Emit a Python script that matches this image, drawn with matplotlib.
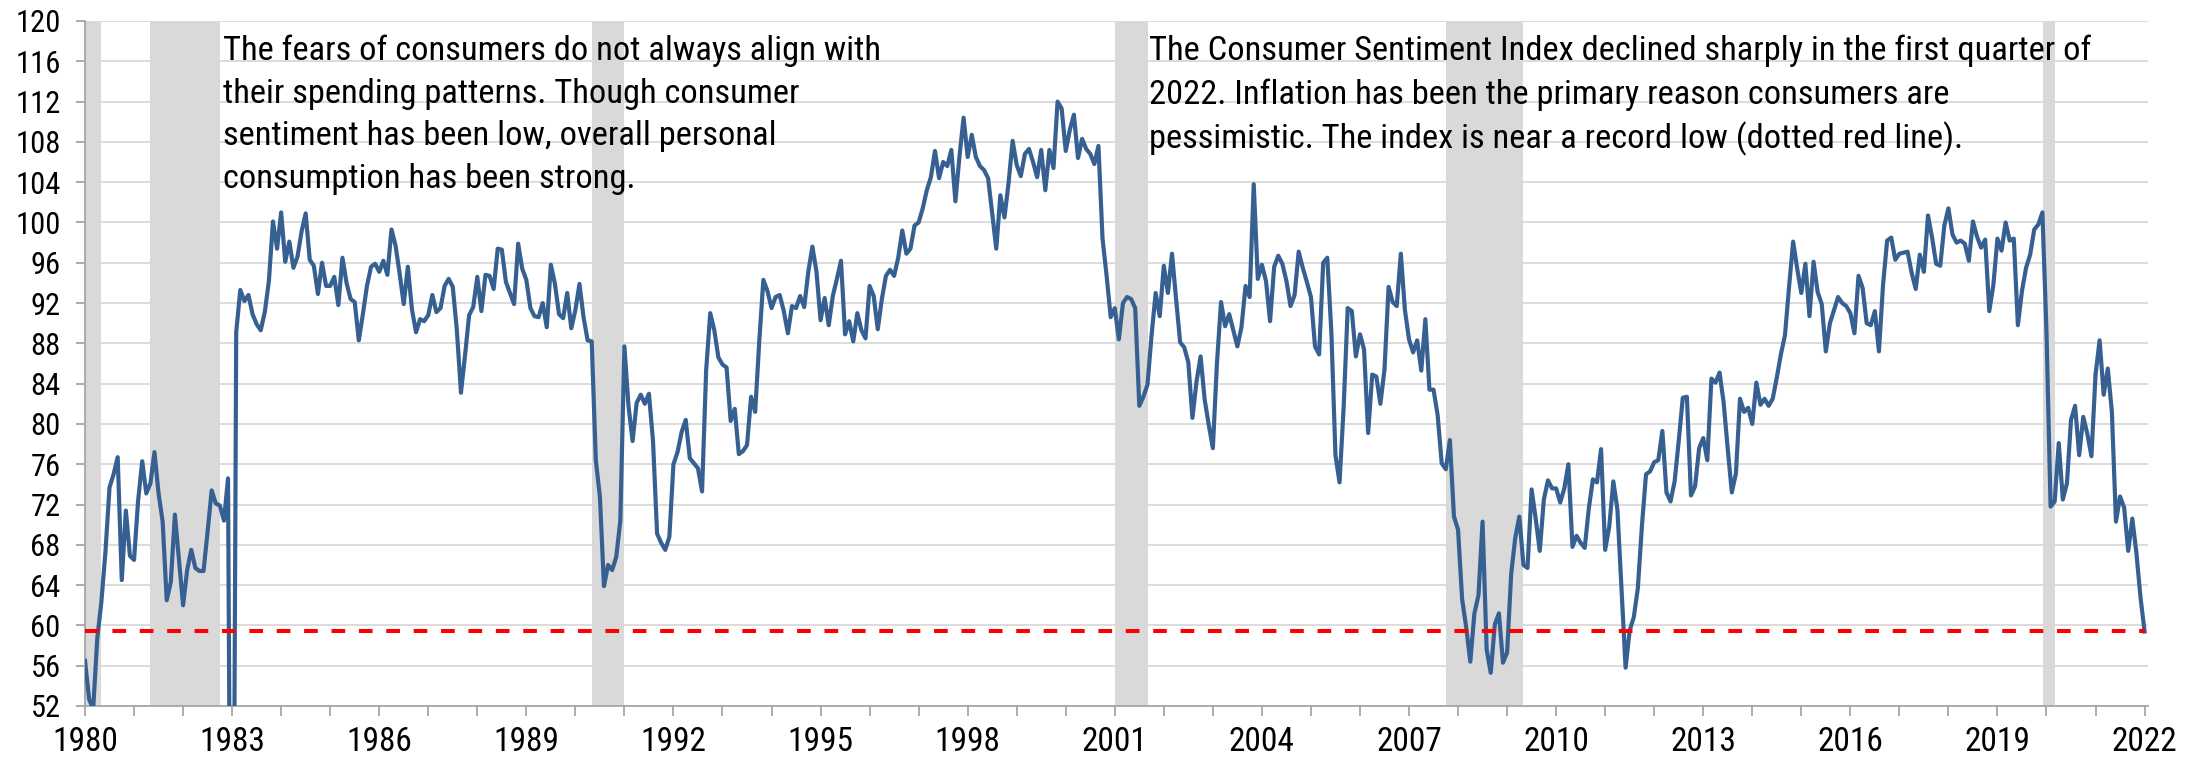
import numpy as np
import matplotlib.pyplot as plt
from matplotlib.ticker import MultipleLocator

plt.rcParams["font.family"] = ["Liberation Sans Narrow", "Roboto Condensed", "Archivo Narrow", "DejaVu Sans"]

# Consumer sentiment index, monthly, as plotted (first point sits on 1980)
# the blank month in 1983 shows as a drop to zero in the source chart
sentiment = [
    56.5, 52.7, 51.7, 58.7, 62.3, 67.3, 73.7, 75.0, 76.7, 64.5,
    71.4, 66.9, 66.5, 72.4, 76.3, 73.1, 74.1, 77.2, 73.1, 70.3, 62.5, 64.3,
    71.0, 66.5, 62.0, 65.5, 67.5, 65.7, 65.4, 65.4, 69.3, 73.4, 72.1, 71.9,
    70.4, 74.6, 0.0, 89.1, 93.3, 92.2, 92.8, 90.9, 89.9, 89.3, 91.1, 94.2,
    100.1, 97.4, 101.0, 96.1, 98.1, 95.5, 96.6, 99.1, 100.9, 96.3, 95.7, 92.9,
    96.0, 93.7, 93.7, 94.6, 91.8, 96.5, 94.0, 92.4, 92.1, 88.3, 90.9, 93.7,
    95.6, 95.9, 95.1, 96.2, 94.8, 99.3, 97.7, 94.9, 91.9, 95.6, 91.4, 89.1,
    90.4, 90.2, 90.8, 92.8, 91.1, 91.5, 93.7, 94.4, 93.6, 89.3, 83.1, 86.8,
    90.8, 91.6, 94.6, 91.2, 94.8, 94.7, 93.4, 97.4, 97.3, 94.1, 93.0, 91.9,
    97.9, 95.4, 94.3, 91.5, 90.7, 90.6, 92.0, 89.6, 95.8, 93.9, 90.9, 90.5,
    93.0, 89.5, 91.3, 93.9, 90.6, 88.3, 88.2, 76.4, 72.8, 63.9, 66.0, 65.5,
    66.8, 70.4, 87.7, 81.8, 78.3, 82.1, 82.9, 82.0, 83.0, 78.3, 69.1, 68.2,
    67.5, 68.8, 76.0, 77.2, 79.2, 80.4, 76.6, 76.1, 75.6, 73.3, 85.3, 91.0,
    89.3, 86.6, 85.9, 85.6, 80.3, 81.5, 77.0, 77.3, 77.9, 82.7, 81.2, 88.2,
    94.3, 93.2, 91.5, 92.6, 92.8, 91.2, 89.0, 91.7, 91.5, 92.7, 91.6, 95.1,
    97.6, 95.1, 90.3, 92.5, 89.8, 92.7, 94.4, 96.2, 88.9, 90.2, 88.2, 91.0,
    89.3, 88.5, 93.7, 92.7, 89.4, 92.4, 94.7, 95.3, 94.7, 96.5, 99.2, 96.9,
    97.4, 99.7, 100.0, 101.4, 103.2, 104.5, 107.1, 104.4, 106.0, 105.6, 107.2, 102.1,
    106.6, 110.4, 106.5, 108.7, 106.5, 105.6, 105.2, 104.4, 100.9, 97.4, 102.7, 100.5,
    103.9, 108.1, 105.7, 104.6, 106.8, 107.3, 106.0, 104.5, 107.2, 103.2, 107.2, 105.4,
    112.0, 111.3, 107.1, 109.2, 110.7, 106.4, 108.3, 107.3, 106.8, 105.8, 107.6, 98.4,
    94.7, 90.6, 91.5, 88.4, 92.0, 92.6, 92.4, 91.5, 81.8, 82.7, 83.9, 88.8,
    93.0, 90.7, 95.7, 93.0, 96.9, 92.4, 88.1, 87.6, 86.1, 80.6, 84.2, 86.7,
    82.4, 79.9, 77.6, 86.0, 92.1, 89.7, 90.9, 89.3, 87.7, 89.6, 93.7, 92.6,
    103.8, 94.4, 95.8, 94.2, 90.2, 95.6, 96.7, 95.9, 94.2, 91.7, 92.8, 97.1,
    95.5, 94.1, 92.6, 87.7, 86.9, 96.0, 96.5, 89.1, 76.9, 74.2, 81.6, 91.5,
    91.2, 86.7, 88.9, 87.4, 79.1, 84.9, 84.7, 82.0, 85.4, 93.6, 92.1, 91.7,
    96.9, 91.3, 88.4, 87.1, 88.3, 85.3, 90.4, 83.4, 83.4, 80.9, 76.1, 75.5,
    78.4, 70.8, 69.5, 62.6, 59.8, 56.4, 61.2, 63.0, 70.3, 57.6, 55.3, 60.1,
    61.2, 56.3, 57.3, 65.1, 68.7, 70.8, 66.0, 65.7, 73.5, 70.6, 67.4, 72.5,
    74.4, 73.6, 73.6, 72.2, 73.6, 76.0, 67.8, 68.9, 68.2, 67.7, 71.6, 74.5,
    74.2, 77.5, 67.5, 69.8, 74.3, 71.5, 63.7, 55.8, 59.5, 60.8, 63.7, 69.9,
    75.0, 75.3, 76.2, 76.4, 79.3, 73.2, 72.3, 74.3, 78.3, 82.6, 82.7, 72.9,
    73.8, 77.6, 78.6, 76.4, 84.5, 84.1, 85.1, 82.1, 77.5, 73.2, 75.1, 82.5,
    81.2, 81.6, 80.0, 84.1, 81.9, 82.5, 81.8, 82.5, 84.6, 86.9, 88.8, 93.6,
    98.1, 95.4, 93.0, 95.9, 90.7, 96.1, 93.1, 91.9, 87.2, 90.0, 91.3, 92.6,
    92.0, 91.7, 91.0, 89.0, 94.7, 93.5, 90.0, 89.8, 91.2, 87.2, 93.8, 98.2,
    98.5, 96.3, 96.9, 97.0, 97.1, 95.0, 93.4, 96.8, 95.1, 100.7, 98.5, 95.9,
    95.7, 99.7, 101.4, 98.8, 98.0, 98.2, 97.9, 96.2, 100.1, 98.6, 97.5, 98.3,
    91.2, 93.8, 98.4, 97.2, 100.0, 98.2, 98.4, 89.8, 93.2, 95.5, 96.8, 99.3,
    99.8, 101.0, 89.1, 71.8, 72.3, 78.1, 72.5, 74.1, 80.4, 81.8, 76.9, 80.7,
    79.0, 76.8, 84.9, 88.3, 82.9, 85.5, 81.2, 70.3, 72.8, 71.7, 67.4, 70.6,
    67.2, 62.8, 59.4,
]
start_year = 1980
record_low_line = 59.4

# recession bands, in the chart's x units
recession_start = [1979.83, 1981.33, 1990.33, 2001.0, 2007.75, 2019.92]
recession_end = [1980.33, 1982.75, 1991.0, 2001.67, 2009.33, 2020.17]

note_left = ("The fears of consumers do not always align with\n"
             "their spending patterns. Though consumer\n"
             "sentiment has been low, overall personal\n"
             "consumption has been strong.")
note_right = ("The Consumer Sentiment Index declined sharply in the first quarter of\n"
              "2022. Inflation has been the primary reason consumers are\n"
              "pessimistic. The index is near a record low (dotted red line).")

x = start_year + np.arange(len(sentiment)) / 12

fig = plt.figure(figsize=(22.01, 7.61), dpi=100)
ax = fig.add_axes([85 / 2201, 55 / 761, 2063 / 2201, 685 / 761])

for s, e in zip(recession_start, recession_end):
    ax.axvspan(s, e, color="#d9d9d9", lw=0, zorder=1)

ax.plot(x, sentiment, color="#376092", lw=3.0, zorder=3, solid_joinstyle="round")
ax.hlines(record_low_line, x[0], x[-1], colors="#ff0000", lw=2.9,
          linestyles=(0, (3.4, 3.4)), zorder=4)

ax.set_xlim(1980, 2022.07)
ax.set_ylim(52, 120)
ax.yaxis.set_major_locator(MultipleLocator(4))
ax.xaxis.set_major_locator(MultipleLocator(3))
ax.xaxis.set_minor_locator(MultipleLocator(1))
ax.xaxis.set_major_formatter(lambda v, p: f"{int(round(v))}")

ax.grid(axis="y", color="#d9d9d9", lw=1.3)
ax.set_axisbelow(True)
for side in ["top", "right"]:
    ax.spines[side].set_visible(False)
for side in ["left", "bottom"]:
    ax.spines[side].set_color("#a6a6a6")
    ax.spines[side].set_linewidth(1.3)

ax.tick_params(axis="y", length=6.5, width=1.3, color="#a6a6a6", labelsize=22, pad=11)
ax.tick_params(axis="x", which="both", length=7.5, width=1.3, color="#a6a6a6",
               labelsize=24, pad=7)

fig.text(223 / 2201, 1 - 35 / 761, note_left, fontsize=24.8, va="top", ha="left",
         linespacing=1.42)
fig.text(1149 / 2201, 1 - 35 / 761, note_right, fontsize=24.8, va="top", ha="left",
         linespacing=1.42)

fig.savefig("out.png", dpi=100)
